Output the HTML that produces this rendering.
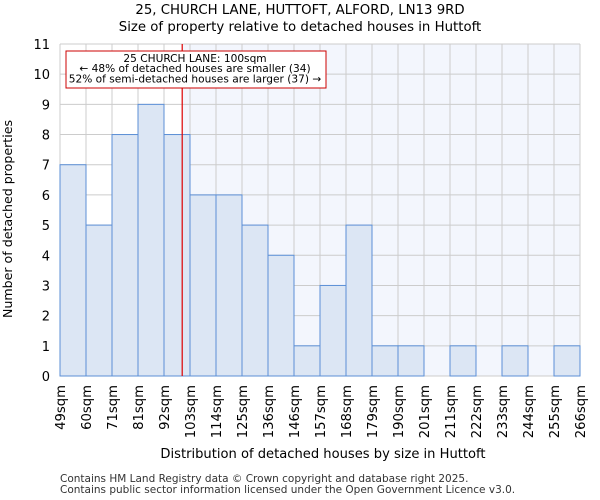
<!DOCTYPE html>
<html><head><meta charset="utf-8"><style>body{margin:0;background:#fff}svg{display:block;font-family:"DejaVu Sans","Liberation Sans",sans-serif}</style></head>
<body>
<svg id="chart" width="600" height="500" xmlns="http://www.w3.org/2000/svg">
<text x="300" y="14" text-anchor="middle" font-size="13.3">25, CHURCH LANE, HUTTOFT, ALFORD, LN13 9RD</text>
<text x="300" y="31" text-anchor="middle" font-size="13.3">Size of property relative to detached houses in Huttoft</text>
<g id="plot"></g>
<text x="323" y="458" text-anchor="middle" font-size="13.1">Distribution of detached houses by size in Huttoft</text>
<text transform="translate(12,219) rotate(-90)" text-anchor="middle" font-size="12.6">Number of detached properties</text>
<text x="60" y="482" font-size="10.5" fill="#333">Contains HM Land Registry data © Crown copyright and database right 2025.</text>
<text x="60" y="493" font-size="10.5" fill="#333">Contains public sector information licensed under the Open Government Licence v3.0.</text>
</svg>
<script>
const binLabels=["49sqm","60sqm","71sqm","81sqm","92sqm","103sqm","114sqm","125sqm","136sqm","146sqm","157sqm","168sqm","179sqm","190sqm","201sqm","211sqm","222sqm","233sqm","244sqm","255sqm","266sqm"];
const counts=[7,5,8,9,8,6,6,5,4,1,3,5,1,1,0,1,0,1,0,1];
const yTicks=[0,1,2,3,4,5,6,7,8,9,10,11];
const markerPos=4.7;
const NS="http://www.w3.org/2000/svg";
const L=60,R=580,T=44,B=376,yMax=11;
const bw=(R-L)/counts.length;
const xs=i=>L+i*bw, ys=v=>B-(B-T)*v/yMax;
const g=document.getElementById('plot');
function mk(t,a){const e=document.createElementNS(NS,t);for(const k in a)e.setAttribute(k,a[k]);g.appendChild(e);return e;}
const mx=xs(markerPos);
let e=mk('rect',{x:L,y:T,width:mx-L,height:B-T,fill:'#fff'});

e=mk('rect',{x:mx,y:T,width:R-mx,height:B-T,fill:'#f3f6fd'});

yTicks.forEach(v=>{
 e=mk('line',{x1:L,x2:R,y1:ys(v),y2:ys(v),stroke:'#ccc','stroke-width':1});
 
 e=mk('text',{x:L-10,y:ys(v)+5,'text-anchor':'end','font-size':13});e.textContent=v;
 
});
binLabels.forEach((l,i)=>{
 e=mk('line',{x1:xs(i),x2:xs(i),y1:T,y2:B,stroke:'#ccc','stroke-width':1});
 
 e=mk('text',{transform:`translate(${xs(i)+5},${B+9}) rotate(-90)`,'text-anchor':'end','font-size':13.2});e.textContent=l;
 
});
counts.forEach((c,i)=>{
 if(c<=0)return;
 e=mk('rect',{x:xs(i),y:ys(c),width:bw,height:B-ys(c),fill:'#dce6f4',stroke:'#5b8fd6','stroke-width':1});
 
});
e=mk('line',{x1:mx,x2:mx,y1:T,y2:B,stroke:'#d00','stroke-width':1.2});

e=mk('rect',{x:66,y:51,width:260,height:37,fill:'#fff',stroke:'#c00','stroke-width':1});

["25 CHURCH LANE: 100sqm","← 48% of detached houses are smaller (34)","52% of semi-detached houses are larger (37) →"].forEach((t,i)=>{
 e=mk('text',{x:195,y:62+i*10.2,'text-anchor':'middle','font-size':10.6});e.textContent=t;
 
});
</script>
</body></html>
